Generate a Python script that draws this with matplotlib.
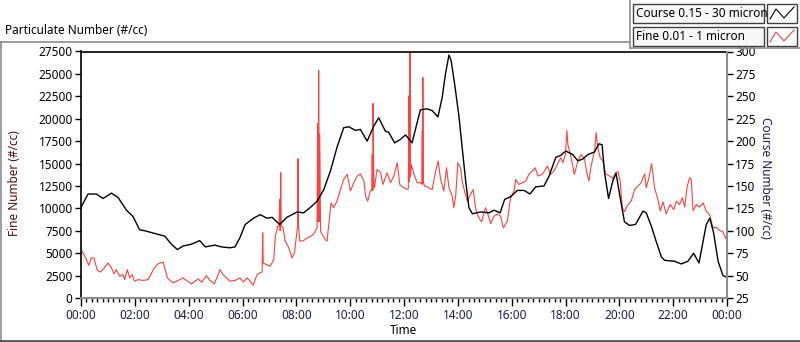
import matplotlib
matplotlib.use('Agg')
import matplotlib.pyplot as plt
from matplotlib.lines import Line2D
from matplotlib.patches import Rectangle
from matplotlib.ticker import MultipleLocator, FuncFormatter

# coarse particles (right axis), hours since midnight
t_coarse = [0.0, 0.26, 0.57, 0.82, 1.13, 1.38, 1.69, 1.93, 2.18, 2.37, 2.74, 3.11,
            3.36, 3.58, 3.79, 4.10, 4.41, 4.62, 4.97, 5.22, 5.53, 5.72, 5.90, 6.10,
            6.41, 6.66, 6.91, 7.10, 7.38, 7.65, 8.03, 8.27, 8.52, 8.77, 9.02, 9.27,
            9.51, 9.76, 9.95, 10.20, 10.38, 10.63, 10.88, 11.06, 11.31, 11.43, 11.65,
            11.87, 12.06, 12.30, 12.49, 12.61, 12.86, 13.05, 13.26, 13.42, 13.54,
            13.67, 13.75, 13.88, 14.04, 14.16, 14.29, 14.41, 14.54, 14.85, 15.16,
            15.34, 15.57, 15.74, 15.96, 16.21, 16.46, 16.68, 16.89, 17.20, 17.39,
            17.64, 17.82, 18.01, 18.27, 18.46, 18.64, 18.83, 19.08, 19.24, 19.36,
            19.45, 19.60, 19.76, 19.88, 20.03, 20.19, 20.38, 20.60, 20.88, 21.00,
            21.19, 21.37, 21.56, 21.68, 22.05, 22.30, 22.55, 22.76, 22.96, 23.11,
            23.23, 23.36, 23.50, 23.67, 23.85, 24.0]
coarse = [126, 141, 141, 136, 142, 137, 123, 116, 101, 100, 97, 94,
          85, 79, 83, 85, 89, 82, 84, 82, 81, 82, 92, 107,
          114, 118, 114, 115, 107, 115, 121, 120, 126, 133, 146, 167,
          193, 215, 216, 212, 213, 200, 217, 226, 211, 210, 198,
          202, 207, 198, 221, 235, 236, 234, 227, 249, 275,
          296, 290, 264, 228, 193, 156, 126, 119, 121, 120,
          123, 120, 135, 138, 145, 145, 141, 149, 150, 161,
          182, 184, 189, 185, 178, 180, 185, 188, 197, 196,
          165, 136, 156, 164, 137, 110, 106, 107, 122, 120,
          105, 88, 71, 67, 66, 63, 66, 75, 64, 88,
          107, 114, 98, 66, 50, 48]

# fine particles (left axis)
t_fine = [0.00, 0.14, 0.29, 0.38, 0.48, 0.61, 0.73, 0.86, 1.00, 1.13, 1.23, 1.31,
          1.44, 1.56, 1.62, 1.72, 1.81, 1.90, 1.99, 2.12, 2.31, 2.49, 2.59, 2.72,
          2.86, 3.05, 3.11, 3.21, 3.42, 3.61, 3.79, 3.92, 4.10, 4.35, 4.48, 4.66,
          4.79, 4.95, 5.07, 5.16, 5.28, 5.41, 5.53, 5.72, 5.90, 6.04, 6.17, 6.29,
          6.39, 6.54, 6.66, 6.73, 6.75, 6.77, 6.91, 7.03, 7.16, 7.22, 7.31, 7.36,
          7.38, 7.40, 7.42, 7.44, 7.50, 7.59, 7.72, 7.84, 7.93, 8.03, 8.05, 8.06,
          8.08, 8.13, 8.27, 8.40, 8.55, 8.67, 8.77, 8.79, 8.81, 8.83, 8.85, 8.87,
          8.90, 8.96, 9.08, 9.14, 9.20, 9.29, 9.39, 9.51, 9.64, 9.76, 9.89, 10.01,
          10.13, 10.26, 10.38, 10.51, 10.57, 10.65, 10.75, 10.80, 10.82, 10.84,
          10.85, 10.88, 10.90, 11.00, 11.13, 11.22, 11.37, 11.50, 11.62, 11.75,
          11.84, 11.99, 12.12, 12.16, 12.18, 12.20, 12.22, 12.24, 12.27, 12.37,
          12.49, 12.61, 12.66, 12.68, 12.69, 12.70, 12.72, 12.76, 12.92, 13.05,
          13.17, 13.27, 13.36, 13.48, 13.58, 13.67, 13.79, 13.85, 13.92, 14.00,
          14.10, 14.16, 14.25, 14.35, 14.47, 14.57, 14.66, 14.78, 14.88, 15.03,
          15.12, 15.22, 15.34, 15.47, 15.59, 15.69, 15.84, 15.96, 16.09, 16.15,
          16.27, 16.40, 16.52, 16.64, 16.77, 16.87, 16.98, 17.14, 17.33, 17.45,
          17.57, 17.70, 17.82, 17.90, 18.00, 18.05, 18.09, 18.21, 18.33, 18.46,
          18.58, 18.71, 18.79, 18.87, 18.95, 19.08, 19.14, 19.20, 19.29, 19.39,
          19.49, 19.64, 19.76, 19.86, 19.95, 20.03, 20.11, 20.19, 20.32, 20.44,
          20.57, 20.69, 20.81, 20.94, 21.00, 21.10, 21.20, 21.31, 21.43, 21.52,
          21.62, 21.74, 21.89, 22.02, 22.12, 22.24, 22.34, 22.43, 22.51, 22.61,
          22.67, 22.74, 22.86, 22.98, 23.11, 23.23, 23.36, 23.48, 23.60, 23.73,
          23.85, 23.95, 24.00]
fine = [5400, 4660, 3650, 4470, 4470, 3050, 2900, 3350, 3910, 3350, 2680, 3170,
        2420, 2600, 2050, 3170, 2240, 2600, 1870, 2050, 1960, 2050, 2600, 3350,
        3800, 4020, 3350, 2240, 1680, 1960, 2240, 1960, 1570, 2130, 1760, 2500,
        1960, 1570, 2420, 3170, 2600, 2240, 1870, 1960, 2240, 1800, 2240, 1870,
        1420, 2600, 2830, 2900, 7270, 3900, 3700, 3540, 4280, 6900, 8020, 8000,
        11000, 7500, 13980, 8000, 7900, 6340, 5590, 4470, 5030, 7600, 8000, 15540,
        8000, 6340, 6400, 6700, 6900, 7270, 7830, 19450, 8500, 25400, 8500, 18300,
        7500, 7080, 6530, 6340, 8020, 10620, 10070, 10810, 12110, 13230, 13790, 11930,
        12860, 13610, 13850, 13050, 11370, 10810, 11930, 12000, 16020, 12000,
        21690, 12300, 12300, 14350, 13980, 12670, 13980, 12860, 13610, 15090,
        12670, 12300, 12110, 12200, 22550, 13000, 27390, 13500, 14900, 13800,
        12860, 12860, 12700, 18640, 12700, 24600, 13000, 12490, 12300, 12110,
        14090, 15280, 13230, 11930, 14540, 12300, 11370, 10060, 11370, 15090,
        14540, 13050, 11930, 10810, 11550, 12110, 10060, 8940, 8500, 10060,
        9310, 8300, 9120, 9370, 9120, 7830, 8570, 11180, 11930, 13230,
        12670, 12860, 13050, 13790, 14160, 14540, 13610, 13790, 14720, 13790,
        14160, 14910, 15650, 15090, 16020, 18700, 17100, 15650, 13790, 15280,
        16020, 15460, 13980, 13050, 14720, 16400, 18450, 16770, 15650, 15280,
        13850, 13610, 13350, 13980, 14100, 13050, 10060, 9630, 10430, 10810,
        12110, 12490, 12860, 13850, 12300, 13420, 14980, 12300, 11000, 9700,
        10740, 9390, 10430, 9870, 10810, 10430, 11180, 10140, 12300, 13420,
        13230, 9750, 10430, 10140, 10620, 9690, 9250, 7830, 7900, 7530,
        7380, 6640, 6780]

legend_labels = ['Course 0.15 - 30 micron', 'Fine 0.01 - 1 micron']
red = '#ff4040'
W, H = 800, 342

plt.rcParams['font.family'] = ['Noto Sans', 'DejaVu Sans']
fig = plt.figure(figsize=(8, 3.42), dpi=100)


def fx(x):
    return x / W


def fy(y):
    return 1 - y / H


ax = fig.add_axes([fx(81), fy(298), fx(727 - 81), (298 - 51.5) / H])
ax.plot(t_fine, fine, color=red, lw=0.8)
ax.set_xlim(0, 24)
ax.set_ylim(0, 27500)
ax.yaxis.set_major_locator(MultipleLocator(2500))
ax.xaxis.set_major_locator(MultipleLocator(2))
ax.xaxis.set_minor_locator(MultipleLocator(0.2))
ax.xaxis.set_major_formatter(FuncFormatter(lambda v, p: '%02d:00' % (int(round(v)) % 24)))
ax.tick_params(axis='y', length=4, width=1, labelsize=8.5, pad=2, color='black')
ax.tick_params(axis='x', which='major', length=6, width=1, labelsize=8.5, pad=2,
               color='black', labelcolor='#1c1c50')
ax.tick_params(axis='x', which='minor', length=3, width=1, color='black')
for s in ('left', 'top'):
    ax.spines[s].set_color('black')
    ax.spines[s].set_linewidth(1.2)
ax.spines['bottom'].set_color('#8c8c8c')
ax.spines['bottom'].set_linewidth(1.5)
ax.spines['right'].set_visible(False)

ax2 = ax.twinx()
ax2.plot(t_coarse, coarse, color='black', lw=1.0)
ax2.set_ylim(25, 300)
ax2.yaxis.set_major_locator(MultipleLocator(25))
ax2.tick_params(axis='y', length=4, width=1, labelsize=8.5, pad=2, color='black')
for s in ('left', 'top', 'bottom'):
    ax2.spines[s].set_visible(False)
ax2.spines['right'].set_color('#8c8c8c')
ax2.spines['right'].set_linewidth(1.5)

fig.text(fx(5), fy(31), 'Particulate Number (#/cc)', fontsize=8.5, va='center', ha='left')
fig.text(fx(14), fy(183), 'Fine Number (#/cc)', fontsize=8.5, rotation=90,
         va='center', ha='center', color='#5a0a0a')
fig.text(fx(765), fy(178), 'Course Number (#/cc)', fontsize=8.5, rotation=270,
         va='center', ha='center', color='#1c1c50')
fig.text(fx(404), fy(330), 'Time', fontsize=8.5, va='center', ha='center')

# outer frame
frame = dict(transform=fig.transFigure, color='#8c8c8c', lw=1.2)
fig.add_artist(Line2D([fx(0), fx(630)], [fy(42), fy(42)], **frame))
fig.add_artist(Line2D([fx(1), fx(1)], [fy(42), fy(341)], **frame))
fig.add_artist(Line2D([fx(0), fx(800)], [fy(341), fy(341)], transform=fig.transFigure,
                      color='#404040', lw=1.2))
fig.add_artist(Line2D([fx(630), fx(630)], [fy(0), fy(48)], **frame))
fig.add_artist(Line2D([fx(630), fx(800)], [fy(48), fy(48)], **frame))

# legend boxes
for i, (lab, col) in enumerate(zip(legend_labels, ['black', red])):
    top = 4 + i * 23
    fig.add_artist(Rectangle((fx(633), fy(top + 19)), fx(131), 19 / H,
                             transform=fig.transFigure, facecolor='#f7f7f7',
                             edgecolor='#404040', lw=1))
    fig.add_artist(Rectangle((fx(767), fy(top + 19)), fx(30), 19 / H,
                             transform=fig.transFigure, facecolor='white',
                             edgecolor='#404040', lw=1))
    fig.text(fx(636), fy(top + 9.5), lab, fontsize=8.5, va='center', ha='left')
    zx = [770, 776, 784, 794]
    zy = [top + 15, top + 5, top + 14, top + 3]
    fig.add_artist(Line2D([fx(v) for v in zx], [fy(v) for v in zy],
                          transform=fig.transFigure, color=col, lw=0.8))

fig.savefig('out.png', dpi=100)
